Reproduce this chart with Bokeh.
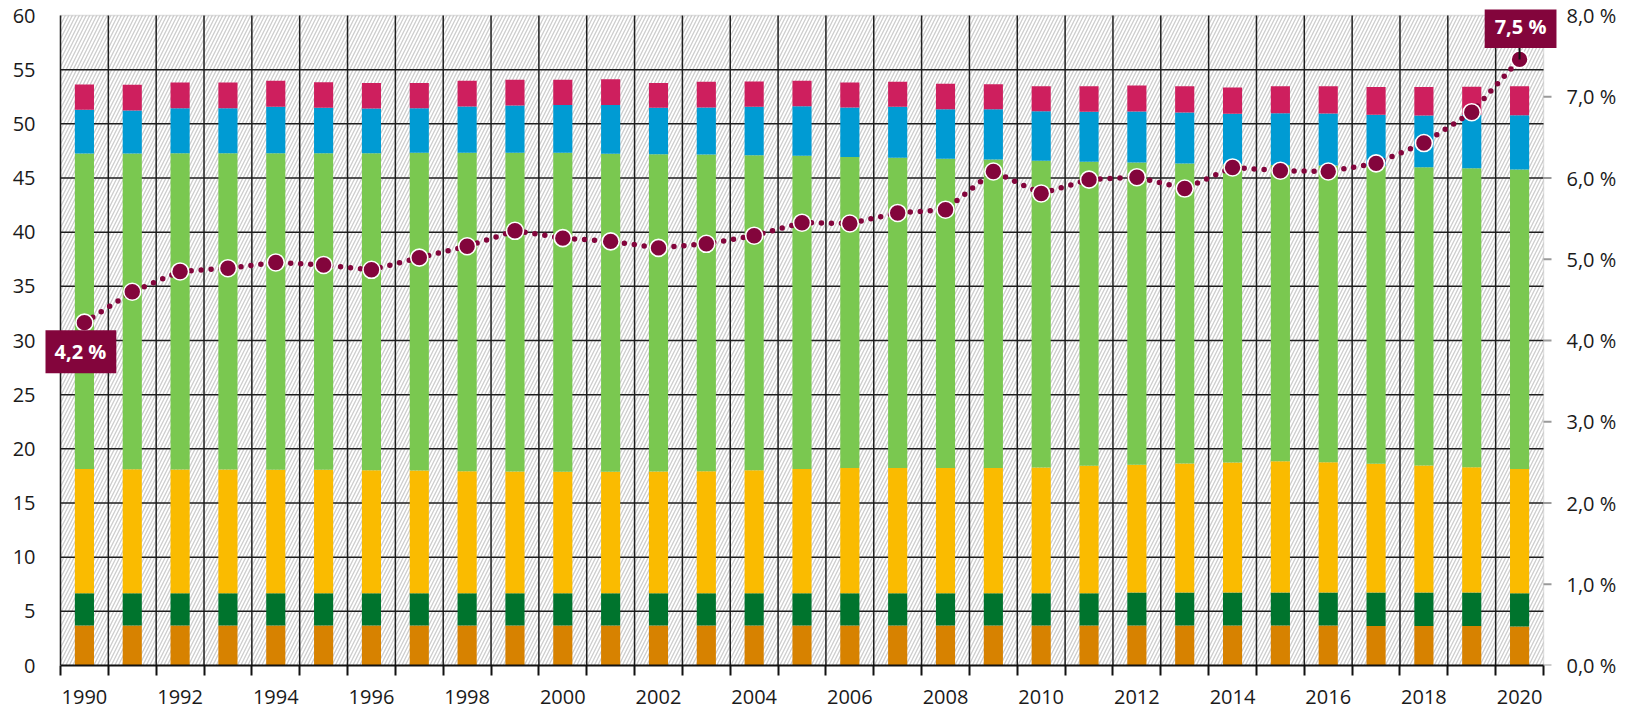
from bokeh.plotting import figure
from bokeh.models import Range1d, LinearAxis, FixedTicker, BoxAnnotation, Label, ColumnDataSource
from bokeh.embed import file_html
from bokeh.resources import INLINE

# ---------------- data ----------------
years = [1990, 1991, 1992, 1993, 1994, 1995, 1996, 1997, 1998, 1999, 2000,
         2001, 2002, 2003, 2004, 2005, 2006, 2007, 2008, 2009, 2010,
         2011, 2012, 2013, 2014, 2015, 2016, 2017, 2018, 2019, 2020]
year_labels = [1990, 1992, 1994, 1996, 1998, 2000, 2002, 2004, 2006, 2008,
               2010, 2012, 2014, 2016, 2018, 2020]

orange = [3.70, 3.70, 3.70, 3.70, 3.70, 3.70, 3.70, 3.70, 3.70, 3.70, 3.70,
          3.70, 3.70, 3.70, 3.70, 3.70, 3.70, 3.70, 3.70, 3.70, 3.70,
          3.70, 3.70, 3.70, 3.70, 3.70, 3.70, 3.65, 3.65, 3.65, 3.60]
dkgreen = [2.98, 2.98, 2.98, 2.98, 2.98, 2.98, 2.98, 2.98, 2.98, 2.98, 2.98,
           2.98, 2.98, 2.98, 2.98, 2.98, 2.98, 2.98, 2.98, 2.98, 2.98,
           2.98, 3.05, 3.05, 3.05, 3.05, 3.05, 3.10, 3.10, 3.10, 3.08]
yellow = [11.47, 11.44, 11.41, 11.41, 11.38, 11.38, 11.35, 11.32, 11.26, 11.23, 11.20,
          11.20, 11.23, 11.26, 11.35, 11.47, 11.56, 11.56, 11.56, 11.56, 11.60,
          11.75, 11.77, 11.90, 11.99, 12.11, 12.02, 11.87, 11.71, 11.56, 11.47]
lgreen = [29.11, 29.14, 29.20, 29.20, 29.23, 29.23, 29.26, 29.32, 29.38, 29.41, 29.44,
          29.35, 29.29, 29.23, 29.08, 28.90, 28.71, 28.62, 28.53, 28.47, 28.32,
          28.06, 27.91, 27.69, 27.51, 27.34, 27.38, 27.48, 27.54, 27.59, 27.64]
blue = [4.03, 3.97, 4.16, 4.16, 4.28, 4.19, 4.13, 4.13, 4.28, 4.37, 4.43,
        4.52, 4.28, 4.34, 4.46, 4.58, 4.56, 4.71, 4.58, 4.64, 4.57,
        4.62, 4.71, 4.71, 4.68, 4.78, 4.80, 4.73, 4.77, 4.93, 5.01]
crimson = [2.34, 2.37, 2.37, 2.37, 2.40, 2.37, 2.36, 2.33, 2.37, 2.37, 2.31,
           2.37, 2.30, 2.37, 2.34, 2.34, 2.31, 2.31, 2.34, 2.31, 2.31,
           2.37, 2.40, 2.43, 2.43, 2.50, 2.53, 2.56, 2.62, 2.59, 2.68]
share_pct = [4.22, 4.60, 4.85, 4.89, 4.96, 4.93, 4.87, 5.02, 5.16, 5.35, 5.26,
             5.22, 5.14, 5.19, 5.29, 5.45, 5.44, 5.57, 5.61, 6.08, 5.81,
             5.98, 6.01, 5.87, 6.13, 6.09, 6.08, 6.18, 6.43, 6.81, 7.46]

left_ticks = [0, 5, 10, 15, 20, 25, 30, 35, 40, 45, 50, 55, 60]
right_ticks = [0, 1, 2, 3, 4, 5, 6, 7, 8]
right_tick_labels = ["0,0 %", "1,0 %", "2,0 %", "3,0 %", "4,0 %", "5,0 %", "6,0 %", "7,0 %", "8,0 %"]

stack_names = ["orange", "dkgreen", "yellow", "lgreen", "blue", "crimson"]
stack_colors = ["#D78200", "#00742D", "#FABB00", "#7AC850", "#009BD3", "#CE1F5E"]
line_color = "#83053C"
FONT = "Open Sans"
TXT = "#1a1a1a"
GRID = "#1e1e1e"
EDGE = "#9a9a9a"

# ---------------- geometry (pixels) ----------------
PLOT_W, PLOT_H = 1483, 650          # data area
PAD_L, PAD_R, PAD_T = 15, 14, 6     # extra room so the value boxes can overhang
px_x = (len(years)) / PLOT_W        # years per pixel
px_y_left = left_ticks[-1] / PLOT_H
px_y_right = right_ticks[-1] / PLOT_H

x0_edge = years[0] - 0.5
x1_edge = years[-1] + 0.5
boundaries = [y - 0.5 for y in years] + [x1_edge]

p = figure(width=1628, height=708, output_backend="svg", toolbar_location=None,
           x_range=Range1d(x0_edge - PAD_L * px_x, x1_edge + PAD_R * px_x),
           y_range=Range1d(0, left_ticks[-1] + PAD_T * px_y_left),
           min_border_left=60 - PAD_L, min_border_right=1628 - 60 - PLOT_W - PAD_R,
           min_border_top=15 - PAD_T, min_border_bottom=708 - 665)
p.extra_y_ranges = {"pct": Range1d(0, right_ticks[-1] + PAD_T * px_y_right)}
p.outline_line_color = None
p.background_fill_color = "white"
p.border_fill_color = "white"
p.grid.visible = False

# hatched data area with grey top/right edge
p.add_layout(BoxAnnotation(left=x0_edge, right=x1_edge, bottom=0, top=left_ticks[-1],
                           fill_color="white", fill_alpha=1.0,
                           line_color=EDGE, line_width=1.5,
                           hatch_pattern="/", hatch_color="#cdcdcd", hatch_weight=1.3,
                           hatch_scale=7, level="image"))

# grid lines (drawn below the bars)
p.segment(x0=boundaries[:-1], y0=[0] * (len(boundaries) - 1),
          x1=boundaries[:-1], y1=[left_ticks[-1]] * (len(boundaries) - 1),
          line_color=GRID, line_width=1.5, level="underlay")
p.segment(x0=[x0_edge] * (len(left_ticks) - 2), y0=left_ticks[1:-1],
          x1=[x1_edge] * (len(left_ticks) - 2), y1=left_ticks[1:-1],
          line_color=GRID, line_width=1.5, level="underlay")

# left axis
la = p.yaxis[0]
la.ticker = FixedTicker(ticks=left_ticks)
la.axis_line_color = None
la.major_tick_out = 0
la.major_tick_in = 0
la.minor_tick_out = 0
la.minor_tick_in = 0
la.major_label_standoff = 10
la.major_label_text_font = FONT
la.major_label_text_font_size = "20px"
la.major_label_text_color = TXT

# bottom axis
ba = p.xaxis[0]
ba.ticker = FixedTicker(ticks=year_labels, minor_ticks=boundaries)
ba.bounds = (x0_edge, x1_edge)
ba.axis_line_color = "#111111"
ba.axis_line_width = 2
ba.major_tick_out = 0
ba.major_tick_in = 0
ba.minor_tick_out = 10
ba.minor_tick_in = 0
ba.minor_tick_line_color = "#111111"
ba.minor_tick_line_width = 2
ba.major_label_standoff = 14
ba.major_label_text_font = FONT
ba.major_label_text_font_size = "20px"
ba.major_label_text_color = TXT

# right axis (labels only; grey ticks drawn at the data edge)
ra = LinearAxis(y_range_name="pct", ticker=FixedTicker(ticks=right_ticks),
                major_label_overrides={t: s for t, s in zip(right_ticks, right_tick_labels)})
ra.axis_line_color = None
ra.major_tick_out = 0
ra.major_tick_in = 0
ra.minor_tick_out = 0
ra.minor_tick_in = 0
ra.major_label_standoff = 9
ra.major_label_text_font = FONT
ra.major_label_text_font_size = "20px"
ra.major_label_text_color = TXT
p.add_layout(ra, "right")
p.segment(x0=[x1_edge] * len(right_ticks), y0=right_ticks,
          x1=[x1_edge + 8 * px_x] * len(right_ticks), y1=right_ticks,
          y_range_name="pct", line_color=EDGE, line_width=2)

# stacked bars
src = ColumnDataSource(dict(years=years, orange=orange, dkgreen=dkgreen, yellow=yellow,
                            lgreen=lgreen, blue=blue, crimson=crimson, pct=share_pct))
p.vbar_stack(stack_names, x="years", width=0.4, color=stack_colors, line_color=None, source=src)

# share line
p.line("years", "pct", source=src, y_range_name="pct", line_color=line_color,
       line_width=5.5, line_dash="0 10", line_cap="round")
p.scatter("years", "pct", source=src, y_range_name="pct", size=17,
          fill_color=line_color, line_color="white", line_width=1.6)

# connector to last label
p.segment(x0=[years[-1]], y0=[share_pct[-1]], x1=[years[-1]], y1=[share_pct[-1] + 0.17],
          y_range_name="pct", line_color="#111111", line_width=2)

def fmt(v):
    return f"{v:.1f}".replace(".", ",") + " %"

box_pad = dict(left=10, right=10, top=8, bottom=8)
p.add_layout(Label(x=years[0], y=share_pct[0], y_range_name="pct", text=fmt(share_pct[0]),
                   x_offset=-4, y_offset=-29, text_align="center", text_baseline="middle",
                   text_font=FONT, text_font_size="20px", text_font_style="bold",
                   text_color="white", background_fill_color=line_color, padding=box_pad))
p.add_layout(Label(x=years[-1], y=share_pct[-1], y_range_name="pct", text=fmt(share_pct[-1]),
                   x_offset=1, y_offset=33, text_align="center", text_baseline="middle",
                   text_font=FONT, text_font_size="20px", text_font_style="bold",
                   text_color="white", background_fill_color=line_color, padding=box_pad))

open("out.html", "w").write(file_html(p, INLINE))
